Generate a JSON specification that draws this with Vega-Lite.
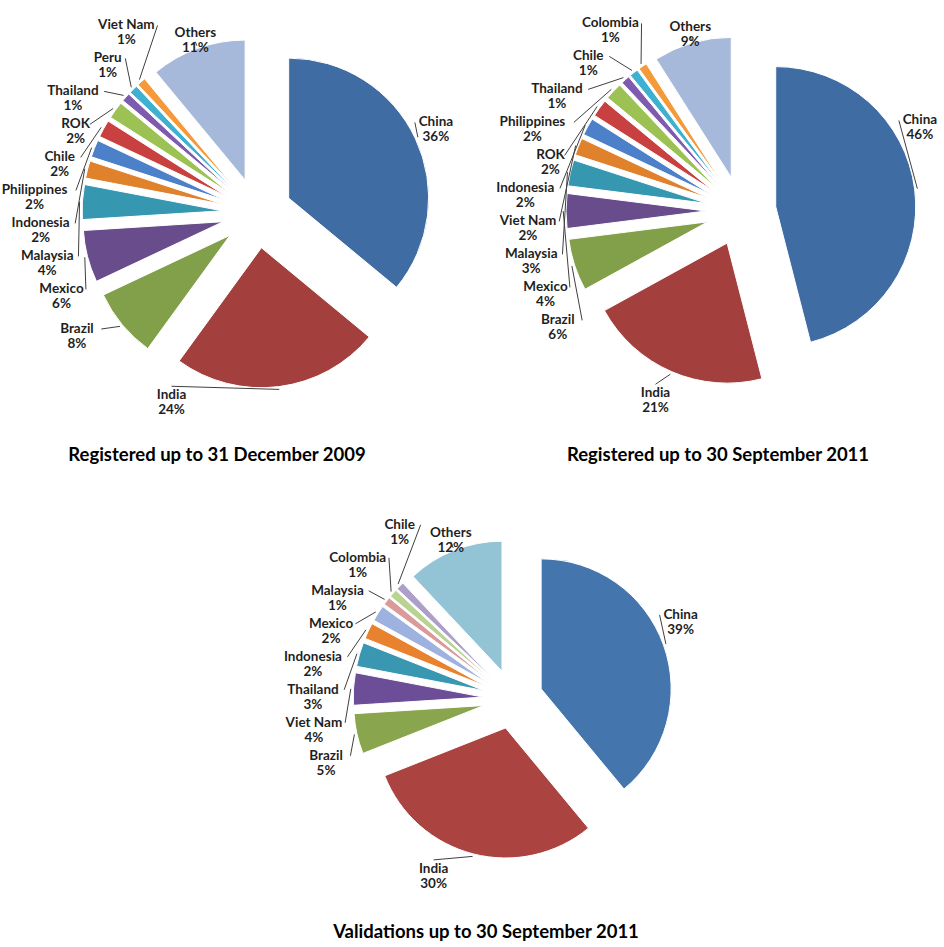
{
  "$schema": "https://vega.github.io/schema/vega-lite/v6.json",
  "padding": 0,
  "background": "white",
  "spacing": 0,
  "config": {"view": {"stroke": null}, "concat": {"spacing": 0}},
  "resolve": {"scale": {"x": "independent", "y": "independent", "color": "independent", "theta": "independent"}},
  "datasets": {
    "reg2009": [
      {"country": "China", "pct": 36}, {"country": "India", "pct": 24}, {"country": "Brazil", "pct": 8},
      {"country": "Mexico", "pct": 6}, {"country": "Malaysia", "pct": 4}, {"country": "Indonesia", "pct": 2},
      {"country": "Philippines", "pct": 2}, {"country": "Chile", "pct": 2}, {"country": "ROK", "pct": 2},
      {"country": "Thailand", "pct": 1}, {"country": "Peru", "pct": 1}, {"country": "Viet Nam", "pct": 1},
      {"country": "Others", "pct": 11}
    ],
    "reg2011": [
      {"country": "China", "pct": 46}, {"country": "India", "pct": 21}, {"country": "Brazil", "pct": 6},
      {"country": "Mexico", "pct": 4}, {"country": "Malaysia", "pct": 3}, {"country": "Viet Nam", "pct": 2},
      {"country": "Indonesia", "pct": 2}, {"country": "ROK", "pct": 2}, {"country": "Philippines", "pct": 2},
      {"country": "Thailand", "pct": 1}, {"country": "Chile", "pct": 1}, {"country": "Colombia", "pct": 1},
      {"country": "Others", "pct": 9}
    ],
    "val2011": [
      {"country": "China", "pct": 39}, {"country": "India", "pct": 30}, {"country": "Brazil", "pct": 5},
      {"country": "Viet Nam", "pct": 4}, {"country": "Thailand", "pct": 3}, {"country": "Indonesia", "pct": 2},
      {"country": "Mexico", "pct": 2}, {"country": "Malaysia", "pct": 1}, {"country": "Colombia", "pct": 1},
      {"country": "Chile", "pct": 1}, {"country": "Others", "pct": 12}
    ]
  },
  "vconcat": [
    {
      "bounds": "flush",
      "spacing": 0,
      "resolve": {"scale": {"x": "independent", "y": "independent", "color": "independent", "theta": "independent"}},
      "hconcat": [
        {
          "width": 472, "height": 440,
          "title": {"text": "Registered up to 31 December 2009", "orient": "bottom", "anchor": "middle", "offset": 6, "dx": -19, "font": "Lato", "fontSize": 18.5, "fontWeight": "bold", "color": "#000"},
          "data": {"name": "reg2009"},
          "transform": [
            {"window": [{"op": "sum", "field": "pct", "as": "cum"}, {"op": "row_number", "as": "i"}], "frame": [null, 0]},
            {"joinaggregate": [{"op": "sum", "field": "pct", "as": "tot"}]},
            {"calculate": "2*PI*(datum.cum-datum.pct)/datum.tot", "as": "a0"},
            {"calculate": "2*PI*datum.cum/datum.tot", "as": "a1"},
            {"calculate": "(datum.a0+datum.a1)/2", "as": "mid"},
            {"calculate": "0.25*sin(datum.mid)", "as": "ox"},
            {"calculate": "0.25*cos(datum.mid)", "as": "oy"},
            {"calculate": "1.27*sin(datum.mid)", "as": "px"},
            {"calculate": "1.27*cos(datum.mid)", "as": "py"},
            {"calculate": "cos(datum.mid)>0.9?'top':cos(datum.mid)<-0.85?'bottom':sin(datum.mid)>0?'right':'left'", "as": "side"},
            {"window": [{"op": "row_number", "as": "j"}], "groupby": ["side"], "sort": [{"field": "i"}]},
            {"joinaggregate": [{"op": "count", "as": "n"}], "groupby": ["side"]},
            {"calculate": "1.3*cos(datum.mid)-0.2357*datum.j", "as": "t"},
            {"window": [{"op": "max", "field": "t", "as": "tm"}], "groupby": ["side"], "sort": [{"field": "i"}], "frame": [null, 0]},
            {"calculate": "min(datum.tm+0.2357*datum.j,1.34-0.2357*(datum.n-datum.j))", "as": "yl"},
            {"calculate": "datum.side=='left'?-1.3*sqrt(max(0.04,1-pow(datum.yl/1.6,2))):datum.side=='right'?1.3*sin(min(datum.mid,1.05)):datum.side=='top'?1.3*sin(datum.mid):1.38*sin(max(datum.mid,3.6))", "as": "lx"},
            {"calculate": "datum.side=='left'?datum.yl:datum.side=='right'?1.3*cos(min(datum.mid,1.05)):datum.side=='top'?1.3*cos(datum.mid):1.38*cos(max(datum.mid,3.6))", "as": "ly"},
            {"calculate": "datum.side=='left'?datum.lx-(3.4*length(datum.country)+4)/140:datum.side=='right'?datum.lx+(3.4*length(datum.country)+4)/140:datum.lx", "as": "tx"},
            {"calculate": "datum.country+'\\n'+datum.pct+'%'", "as": "label"}
          ],
          "layer": [
            {
              "mark": {"type": "arc", "radius": 140, "stroke": "white", "strokeWidth": 1},
              "encoding": {
                "x": {"field": "ox", "type": "quantitative", "scale": {"domain": [-1.8357, 1.5357], "nice": false, "zero": false}, "axis": null},
                "y": {"field": "oy", "type": "quantitative", "scale": {"domain": [-1.6214, 1.5214], "nice": false, "zero": false}, "axis": null},
                "theta": {"field": "a0", "type": "quantitative", "stack": null, "scale": {"domain": [0, 6.283185307179586], "range": [0, 6.283185307179586]}},
                "theta2": {"field": "a1"},
                "color": {"field": "country", "type": "nominal", "legend": null, "scale": {
                  "domain": ["China", "India", "Brazil", "Mexico", "Malaysia", "Indonesia", "Philippines", "Chile", "ROK", "Thailand", "Peru", "Viet Nam", "Others"],
                  "range": ["#3F6CA3", "#A3403E", "#82A04A", "#694C8C", "#3597B0", "#E0812C", "#4C80C8", "#C8403F", "#9CC253", "#7E5BAE", "#3EB1D0", "#F59A3A", "#A6B9DB"]}}
              }
            },
            {
              "mark": {"type": "rule", "stroke": "#404040", "strokeWidth": 1},
              "encoding": {
                "x": {"field": "px", "type": "quantitative", "scale": {"domain": [-1.8357, 1.5357], "nice": false, "zero": false}, "axis": null},
                "y": {"field": "py", "type": "quantitative", "scale": {"domain": [-1.6214, 1.5214], "nice": false, "zero": false}, "axis": null},
                "x2": {"field": "lx"}, "y2": {"field": "ly"}
              }
            },
            {
              "transform": [{"filter": "datum.side=='left' || datum.side=='right'"}],
              "mark": {"type": "text", "align": "center", "baseline": "middle", "font": "Lato", "fontWeight": "bold", "fontSize": 13.5, "lineHeight": 15, "lineBreak": "\n", "color": "#1f1f1f"},
              "encoding": {
                "x": {"field": "tx", "type": "quantitative", "scale": {"domain": [-1.8357, 1.5357], "nice": false, "zero": false}, "axis": null},
                "y": {"field": "ly", "type": "quantitative", "scale": {"domain": [-1.6214, 1.5214], "nice": false, "zero": false}, "axis": null},
                "text": {"field": "label"}
              }
            },
            {
              "transform": [{"filter": "datum.side=='top'"}],
              "mark": {"type": "text", "align": "center", "baseline": "bottom", "dy": -2, "font": "Lato", "fontWeight": "bold", "fontSize": 13.5, "lineHeight": 15, "lineBreak": "\n", "color": "#1f1f1f"},
              "encoding": {
                "x": {"field": "tx", "type": "quantitative", "scale": {"domain": [-1.8357, 1.5357], "nice": false, "zero": false}, "axis": null},
                "y": {"field": "ly", "type": "quantitative", "scale": {"domain": [-1.6214, 1.5214], "nice": false, "zero": false}, "axis": null},
                "text": {"field": "label"}
              }
            },
            {
              "transform": [{"filter": "datum.side=='bottom'"}],
              "mark": {"type": "text", "align": "center", "baseline": "top", "dy": 2, "font": "Lato", "fontWeight": "bold", "fontSize": 13.5, "lineHeight": 15, "lineBreak": "\n", "color": "#1f1f1f"},
              "encoding": {
                "x": {"field": "tx", "type": "quantitative", "scale": {"domain": [-1.8357, 1.5357], "nice": false, "zero": false}, "axis": null},
                "y": {"field": "ly", "type": "quantitative", "scale": {"domain": [-1.6214, 1.5214], "nice": false, "zero": false}, "axis": null},
                "text": {"field": "label"}
              }
            }
          ]
        },
        {
          "width": 472, "height": 440,
          "title": {"text": "Registered up to 30 September 2011", "orient": "bottom", "anchor": "middle", "offset": 6, "dx": 10, "font": "Lato", "fontSize": 18.5, "fontWeight": "bold", "color": "#000"},
          "data": {"name": "reg2011"},
          "transform": [
            {"window": [{"op": "sum", "field": "pct", "as": "cum"}, {"op": "row_number", "as": "i"}], "frame": [null, 0]},
            {"joinaggregate": [{"op": "sum", "field": "pct", "as": "tot"}]},
            {"calculate": "2*PI*(datum.cum-datum.pct)/datum.tot", "as": "a0"},
            {"calculate": "2*PI*datum.cum/datum.tot", "as": "a1"},
            {"calculate": "(datum.a0+datum.a1)/2", "as": "mid"},
            {"calculate": "0.25*sin(datum.mid)", "as": "ox"},
            {"calculate": "0.25*cos(datum.mid)", "as": "oy"},
            {"calculate": "1.27*sin(datum.mid)", "as": "px"},
            {"calculate": "1.27*cos(datum.mid)", "as": "py"},
            {"calculate": "cos(datum.mid)>0.9?'top':cos(datum.mid)<-0.85?'bottom':sin(datum.mid)>0?'right':'left'", "as": "side"},
            {"window": [{"op": "row_number", "as": "j"}], "groupby": ["side"], "sort": [{"field": "i"}]},
            {"joinaggregate": [{"op": "count", "as": "n"}], "groupby": ["side"]},
            {"calculate": "1.3*cos(datum.mid)-0.2357*datum.j", "as": "t"},
            {"window": [{"op": "max", "field": "t", "as": "tm"}], "groupby": ["side"], "sort": [{"field": "i"}], "frame": [null, 0]},
            {"calculate": "min(datum.tm+0.2357*datum.j,1.34-0.2357*(datum.n-datum.j))", "as": "yl"},
            {"calculate": "datum.side=='left'?-1.3*sqrt(max(0.04,1-pow(datum.yl/1.6,2))):datum.side=='right'?1.3*sin(min(datum.mid,1.05)):datum.side=='top'?1.3*sin(datum.mid):1.38*sin(max(datum.mid,3.6))", "as": "lx"},
            {"calculate": "datum.side=='left'?datum.yl:datum.side=='right'?1.3*cos(min(datum.mid,1.05)):datum.side=='top'?1.3*cos(datum.mid):1.38*cos(max(datum.mid,3.6))", "as": "ly"},
            {"calculate": "datum.side=='left'?datum.lx-(3.4*length(datum.country)+4)/140:datum.side=='right'?datum.lx+(3.4*length(datum.country)+4)/140:datum.lx", "as": "tx"},
            {"calculate": "datum.country+'\\n'+datum.pct+'%'", "as": "label"}
          ],
          "layer": [
            {
              "mark": {"type": "arc", "radius": 140, "stroke": "white", "strokeWidth": 1},
              "encoding": {
                "x": {"field": "ox", "type": "quantitative", "scale": {"domain": [-1.9214, 1.45], "nice": false, "zero": false}, "axis": null},
                "y": {"field": "oy", "type": "quantitative", "scale": {"domain": [-1.6357, 1.5071], "nice": false, "zero": false}, "axis": null},
                "theta": {"field": "a0", "type": "quantitative", "stack": null, "scale": {"domain": [0, 6.283185307179586], "range": [0, 6.283185307179586]}},
                "theta2": {"field": "a1"},
                "color": {"field": "country", "type": "nominal", "legend": null, "scale": {
                  "domain": ["China", "India", "Brazil", "Mexico", "Malaysia", "Viet Nam", "Indonesia", "ROK", "Philippines", "Thailand", "Chile", "Colombia", "Others"],
                  "range": ["#3F6CA3", "#A3403E", "#82A04A", "#694C8C", "#3597B0", "#E0812C", "#4C80C8", "#C8403F", "#9CC253", "#7E5BAE", "#3EB1D0", "#F59A3A", "#A6B9DB"]}}
              }
            },
            {
              "mark": {"type": "rule", "stroke": "#404040", "strokeWidth": 1},
              "encoding": {
                "x": {"field": "px", "type": "quantitative", "scale": {"domain": [-1.9214, 1.45], "nice": false, "zero": false}, "axis": null},
                "y": {"field": "py", "type": "quantitative", "scale": {"domain": [-1.6357, 1.5071], "nice": false, "zero": false}, "axis": null},
                "x2": {"field": "lx"}, "y2": {"field": "ly"}
              }
            },
            {
              "transform": [{"filter": "datum.side=='left' || datum.side=='right'"}],
              "mark": {"type": "text", "align": "center", "baseline": "middle", "font": "Lato", "fontWeight": "bold", "fontSize": 13.5, "lineHeight": 15, "lineBreak": "\n", "color": "#1f1f1f"},
              "encoding": {
                "x": {"field": "tx", "type": "quantitative", "scale": {"domain": [-1.9214, 1.45], "nice": false, "zero": false}, "axis": null},
                "y": {"field": "ly", "type": "quantitative", "scale": {"domain": [-1.6357, 1.5071], "nice": false, "zero": false}, "axis": null},
                "text": {"field": "label"}
              }
            },
            {
              "transform": [{"filter": "datum.side=='top'"}],
              "mark": {"type": "text", "align": "center", "baseline": "bottom", "dy": -2, "font": "Lato", "fontWeight": "bold", "fontSize": 13.5, "lineHeight": 15, "lineBreak": "\n", "color": "#1f1f1f"},
              "encoding": {
                "x": {"field": "tx", "type": "quantitative", "scale": {"domain": [-1.9214, 1.45], "nice": false, "zero": false}, "axis": null},
                "y": {"field": "ly", "type": "quantitative", "scale": {"domain": [-1.6357, 1.5071], "nice": false, "zero": false}, "axis": null},
                "text": {"field": "label"}
              }
            },
            {
              "transform": [{"filter": "datum.side=='bottom'"}],
              "mark": {"type": "text", "align": "center", "baseline": "top", "dy": 2, "font": "Lato", "fontWeight": "bold", "fontSize": 13.5, "lineHeight": 15, "lineBreak": "\n", "color": "#1f1f1f"},
              "encoding": {
                "x": {"field": "tx", "type": "quantitative", "scale": {"domain": [-1.9214, 1.45], "nice": false, "zero": false}, "axis": null},
                "y": {"field": "ly", "type": "quantitative", "scale": {"domain": [-1.6357, 1.5071], "nice": false, "zero": false}, "axis": null},
                "text": {"field": "label"}
              }
            }
          ]
        }
      ]
    },
    {
      "width": 944, "height": 452,
      "title": {"text": "Validations up to 30 September 2011", "orient": "bottom", "anchor": "middle", "offset": 6, "dx": 14, "font": "Lato", "fontSize": 18.5, "fontWeight": "bold", "color": "#000"},
      "data": {"name": "val2011"},
      "transform": [
        {"window": [{"op": "sum", "field": "pct", "as": "cum"}, {"op": "row_number", "as": "i"}], "frame": [null, 0]},
        {"joinaggregate": [{"op": "sum", "field": "pct", "as": "tot"}]},
        {"calculate": "2*PI*(datum.cum-datum.pct)/datum.tot", "as": "a0"},
        {"calculate": "2*PI*datum.cum/datum.tot", "as": "a1"},
        {"calculate": "(datum.a0+datum.a1)/2", "as": "mid"},
        {"calculate": "0.23*sin(datum.mid)", "as": "ox"},
        {"calculate": "0.23*cos(datum.mid)", "as": "oy"},
        {"calculate": "1.25*sin(datum.mid)", "as": "px"},
        {"calculate": "1.25*cos(datum.mid)", "as": "py"},
        {"calculate": "cos(datum.mid)>0.9?'top':cos(datum.mid)<-0.85?'bottom':sin(datum.mid)>0?'right':'left'", "as": "side"},
        {"window": [{"op": "row_number", "as": "j"}], "groupby": ["side"], "sort": [{"field": "i"}]},
        {"joinaggregate": [{"op": "count", "as": "n"}], "groupby": ["side"]},
        {"calculate": "1.3*cos(datum.mid)-0.2538*datum.j", "as": "t"},
        {"window": [{"op": "max", "field": "t", "as": "tm"}], "groupby": ["side"], "sort": [{"field": "i"}], "frame": [null, 0]},
        {"calculate": "min(datum.tm+0.2538*datum.j,1.34-0.2538*(datum.n-datum.j))", "as": "yl"},
        {"calculate": "datum.side=='left'?-1.3*sqrt(max(0.04,1-pow(datum.yl/1.6,2))):datum.side=='right'?1.3*sin(min(datum.mid,1.05)):datum.side=='top'?1.3*sin(datum.mid):1.38*sin(max(datum.mid,3.6))", "as": "lx"},
        {"calculate": "datum.side=='left'?datum.yl:datum.side=='right'?1.3*cos(min(datum.mid,1.05)):datum.side=='top'?1.3*cos(datum.mid):1.38*cos(max(datum.mid,3.6))", "as": "ly"},
        {"calculate": "datum.side=='left'?datum.lx-(3.4*length(datum.country)+4)/130:datum.side=='right'?datum.lx+(3.4*length(datum.country)+4)/130:datum.lx", "as": "tx"},
        {"calculate": "datum.country+'\\n'+datum.pct+'%'", "as": "label"}
      ],
      "layer": [
        {
          "mark": {"type": "arc", "radius": 130, "stroke": "white", "strokeWidth": 1},
          "encoding": {
            "x": {"field": "ox", "type": "quantitative", "scale": {"domain": [-3.9462, 3.3154], "nice": false, "zero": false}, "axis": null},
            "y": {"field": "oy", "type": "quantitative", "scale": {"domain": [-1.6769, 1.8], "nice": false, "zero": false}, "axis": null},
            "theta": {"field": "a0", "type": "quantitative", "stack": null, "scale": {"domain": [0, 6.283185307179586], "range": [0, 6.283185307179586]}},
            "theta2": {"field": "a1"},
            "color": {"field": "country", "type": "nominal", "legend": null, "scale": {
              "domain": ["China", "India", "Brazil", "Viet Nam", "Thailand", "Indonesia", "Mexico", "Malaysia", "Colombia", "Chile", "Others"],
              "range": ["#4575AD", "#AB4340", "#89A64E", "#6C4D97", "#3997B1", "#E8822E", "#9DB2DE", "#D99A99", "#B9D393", "#ACA0CA", "#93C4D6"]}}
          }
        },
        {
          "mark": {"type": "rule", "stroke": "#404040", "strokeWidth": 1},
          "encoding": {
            "x": {"field": "px", "type": "quantitative", "scale": {"domain": [-3.9462, 3.3154], "nice": false, "zero": false}, "axis": null},
            "y": {"field": "py", "type": "quantitative", "scale": {"domain": [-1.6769, 1.8], "nice": false, "zero": false}, "axis": null},
            "x2": {"field": "lx"}, "y2": {"field": "ly"}
          }
        },
        {
          "transform": [{"filter": "datum.side=='left' || datum.side=='right'"}],
          "mark": {"type": "text", "align": "center", "baseline": "middle", "font": "Lato", "fontWeight": "bold", "fontSize": 13.5, "lineHeight": 15, "lineBreak": "\n", "color": "#1f1f1f"},
          "encoding": {
            "x": {"field": "tx", "type": "quantitative", "scale": {"domain": [-3.9462, 3.3154], "nice": false, "zero": false}, "axis": null},
            "y": {"field": "ly", "type": "quantitative", "scale": {"domain": [-1.6769, 1.8], "nice": false, "zero": false}, "axis": null},
            "text": {"field": "label"}
          }
        },
        {
          "transform": [{"filter": "datum.side=='top'"}],
          "mark": {"type": "text", "align": "center", "baseline": "bottom", "dy": -2, "font": "Lato", "fontWeight": "bold", "fontSize": 13.5, "lineHeight": 15, "lineBreak": "\n", "color": "#1f1f1f"},
          "encoding": {
            "x": {"field": "tx", "type": "quantitative", "scale": {"domain": [-3.9462, 3.3154], "nice": false, "zero": false}, "axis": null},
            "y": {"field": "ly", "type": "quantitative", "scale": {"domain": [-1.6769, 1.8], "nice": false, "zero": false}, "axis": null},
            "text": {"field": "label"}
          }
        },
        {
          "transform": [{"filter": "datum.side=='bottom'"}],
          "mark": {"type": "text", "align": "center", "baseline": "top", "dy": 2, "font": "Lato", "fontWeight": "bold", "fontSize": 13.5, "lineHeight": 15, "lineBreak": "\n", "color": "#1f1f1f"},
          "encoding": {
            "x": {"field": "tx", "type": "quantitative", "scale": {"domain": [-3.9462, 3.3154], "nice": false, "zero": false}, "axis": null},
            "y": {"field": "ly", "type": "quantitative", "scale": {"domain": [-1.6769, 1.8], "nice": false, "zero": false}, "axis": null},
            "text": {"field": "label"}
          }
        }
      ]
    }
  ]
}
